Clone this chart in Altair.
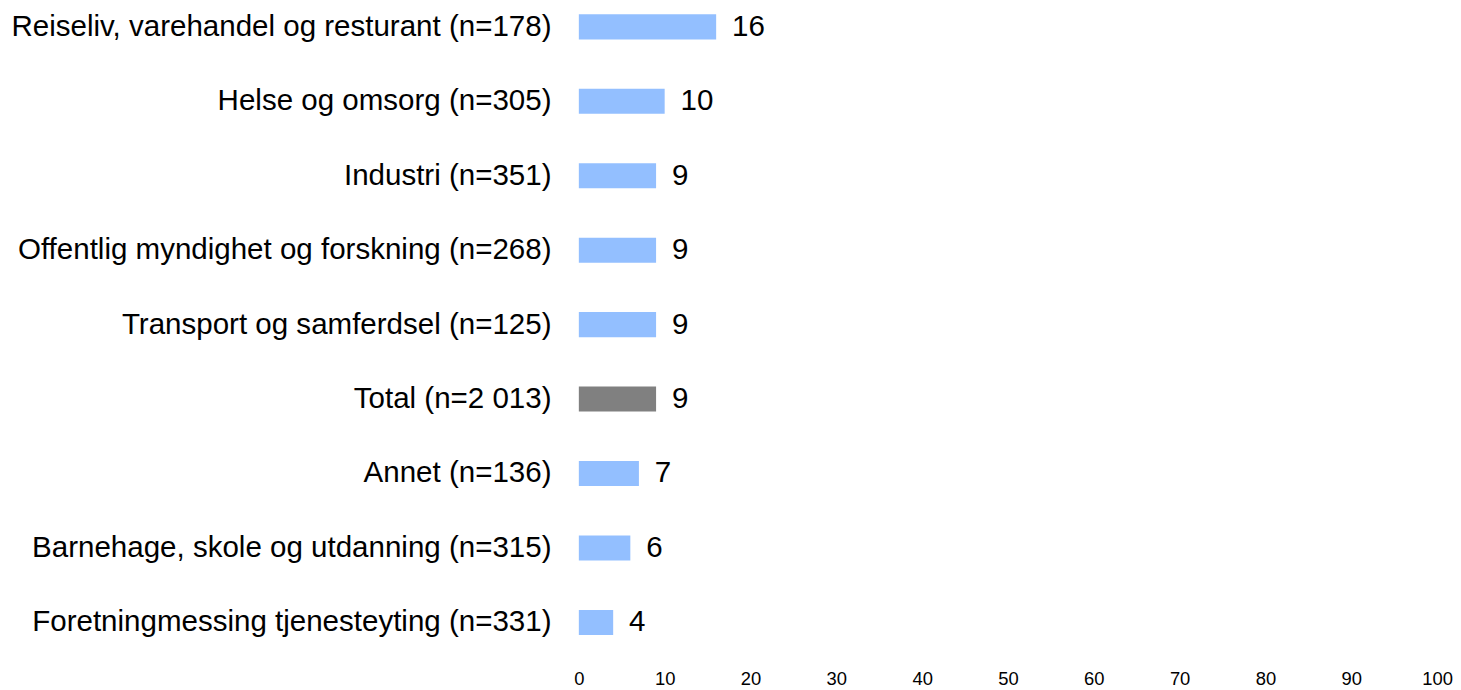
import altair as alt
import pandas as pd

categories = [
    "Reiseliv, varehandel og resturant (n=178)",
    "Helse og omsorg (n=305)",
    "Industri (n=351)",
    "Offentlig myndighet og forskning (n=268)",
    "Transport og samferdsel (n=125)",
    "Total (n=2 013)",
    "Annet (n=136)",
    "Barnehage, skole og utdanning (n=315)",
    "Foretningmessing tjenesteyting (n=331)",
]
values = [16, 10, 9, 9, 9, 9, 7, 6, 4]
groups = ["Bransje", "Bransje", "Bransje", "Bransje", "Bransje", "Total", "Bransje", "Bransje", "Bransje"]
tick_values = [0, 10, 20, 30, 40, 50, 60, 70, 80, 90, 100]

df = pd.DataFrame({"kategori": categories, "verdi": values, "gruppe": groups})

FONT = "Liberation Sans"

y_enc = alt.Y(
    "kategori:N",
    sort=categories,
    scale=alt.Scale(paddingInner=0.6635, paddingOuter=0.06),
    axis=alt.Axis(
        title=None, domain=False, ticks=False, labelFontSize=29.7,
        labelFont=FONT, labelColor="#000000", labelPadding=28, labelLimit=800,
    ),
)
x_enc = alt.X(
    "verdi:Q",
    scale=alt.Scale(domain=[0, 100], nice=False),
    axis=alt.Axis(
        title=None, domain=False, ticks=False, grid=False, values=tick_values,
        labelFontSize=18.5, labelFont=FONT, labelColor="#000000", labelPadding=30,
        labelFlush=False,
    ),
)

bars = alt.Chart(df).mark_bar().encode(
    y=y_enc,
    x=x_enc,
    color=alt.Color(
        "gruppe:N",
        scale=alt.Scale(domain=["Bransje", "Total"], range=["#93BFFF", "#808080"]),
        legend=None,
    ),
)

text = alt.Chart(df).mark_text(
    align="left", baseline="middle", dx=16, fontSize=29.7, font=FONT, color="#000000"
).encode(
    y=alt.Y("kategori:N", sort=categories),
    x=alt.X("verdi:Q"),
    text=alt.Text("verdi:Q"),
)

chart = (
    alt.layer(bars, text)
    .properties(width=863, height=633, padding={"left": 2, "top": 0, "right": 0, "bottom": 0})
    .configure_view(stroke=None)
)

chart.save("out.html", embed_options={"renderer": "svg", "actions": False})
